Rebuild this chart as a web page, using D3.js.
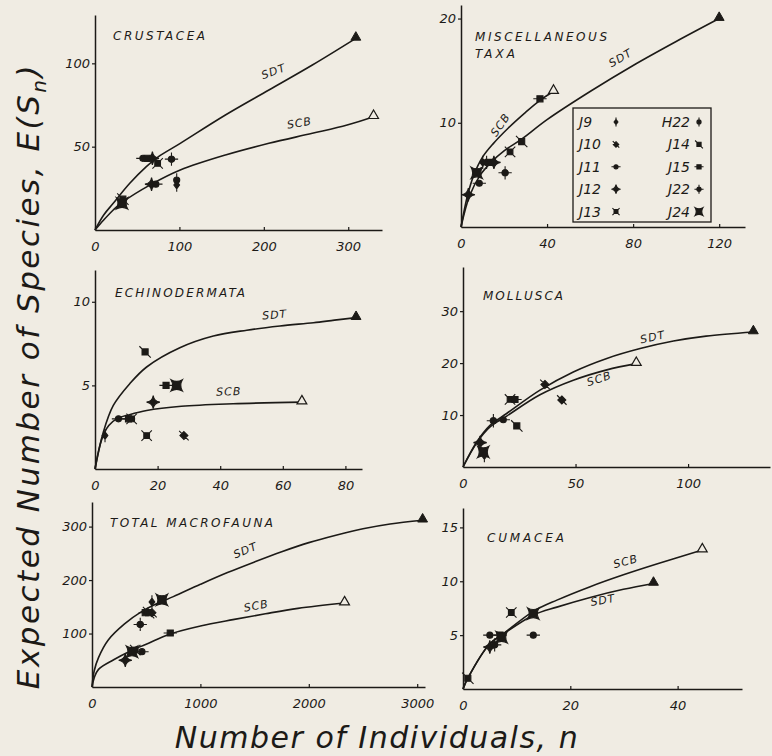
<!DOCTYPE html>
<html>
<head>
<meta charset="utf-8">
<script src="https://cdn.jsdelivr.net/npm/d3@7"></script>
<style>
  body { margin: 0; background: #f0ece3; }
  svg { display: block; }
  text { font-family: "DejaVu Sans", sans-serif; font-style: italic; fill: #1c1a17; }
</style>
</head>
<body>
<div id="chart"></div>
<script>
// stations shown in the legend
const legendLeft = ['J9', 'J10', 'J11', 'J12', 'J13'];
const legendRight = ['H22', 'J14', 'J15', 'J22', 'J24'];

// Crustacea
const crusN = [32, 33, 56.7, 61.8, 68, 74.2, 90.6, 67, 72.1, 96.8, 96.8];
const crusS = [16, 18.5, 43, 43, 43, 40, 42.5, 27.5, 27.5, 30, 27];
const crusSt = ['J24', 'J14', 'J11', 'J15', 'J12', 'J13', 'J22', 'J12', 'J11', 'H22', 'J9'];
const crusSdtN = [0, 10.3, 21.6, 41.2, 60.8, 75.2, 101, 154.5, 206, 257.5, 309];
const crusSdtS = [0, 9, 16, 28, 38, 44, 52, 69, 84, 99, 115];
const crusScbN = [0, 10.3, 21.6, 32, 67, 101, 154.5, 206, 257.5, 298.7, 330];
const crusScbS = [0, 6, 12, 16.5, 27.5, 36, 45, 52, 58, 63, 68];
const crusXTicks = [0, 100, 200, 300];
const crusYTicks = [50, 100];

// Miscellaneous taxa
const miscN = [3.4, 7.3, 8.5, 10.1, 11.9, 14.3, 15.3, 20.5, 22.8, 28.2, 36.7];
const miscS = [3.1, 5.2, 4.2, 6.2, 6.2, 6.2, 6.2, 5.2, 7.2, 8.2, 12.3];
const miscSt = ['J12', 'J24', 'J11', 'J9', 'J22', 'J15', 'J12', 'J22', 'J13', 'J14', 'J15'];
const miscSdtN = [0, 4, 9, 14, 20, 28, 40, 60, 80, 100, 120];
const miscSdtS = [0, 3, 5, 6.2, 7.3, 8.4, 10.3, 13, 15.5, 17.8, 20];
const miscScbN = [0, 3, 6, 10, 15, 22, 30, 37, 43];
const miscScbS = [0, 3, 5, 6.7, 8, 9.5, 11, 12.2, 13];
const miscXTicks = [0, 40, 80, 120];
const miscYTicks = [10, 20];

// Echinodermata
const echN = [3.2, 7.5, 10.7, 11.7, 16.0, 18.6, 22.7, 26.1, 16.5, 28.4];
const echS = [2, 3, 3, 3, 7, 4, 5, 5, 2, 2];
const echSt = ['J9', 'J11', 'J15', 'J13', 'J14', 'J12', 'J15', 'J24', 'J13', 'J10'];
const echSdtN = [0, 2.65, 5.85, 11.1, 16.5, 27.1, 37.8, 48.5, 59.1, 69.8, 76.5, 83.4];
const echSdtS = [0, 2.2, 3.8, 5.1, 6.1, 7.25, 7.95, 8.3, 8.55, 8.75, 8.9, 9.05];
const echScbN = [0, 2.2, 4.4, 6.9, 11.0, 16.5, 27.6, 44.1, 66.1];
const echScbS = [0, 1.8, 2.6, 3.0, 3.25, 3.5, 3.75, 3.9, 4.0];
const echXTicks = [0, 20, 40, 60, 80];
const echYTicks = [5, 10];

// Mollusca
const molN = [7.6, 9, 9.5, 13.5, 17.9, 20.9, 23.1, 23.9, 36.4, 43.9];
const molS = [4.7, 2.9, 2.2, 8.9, 9.1, 13, 13, 7.9, 15.9, 12.9];
const molSt = ['J12', 'J24', 'J9', 'J22', 'J11', 'J13', 'J15', 'J14', 'J10', 'J10'];
const molSdtN = [0, 6.1, 12, 19.4, 34.2, 49, 63.9, 78.7, 93.5, 108, 129];
const molSdtS = [0, 4.8, 8.0, 10.3, 14.8, 18.3, 20.9, 22.8, 24.25, 25.2, 26.0];
const molScbN = [0, 6.1, 12, 19.4, 34.2, 49, 63.9, 77];
const molScbS = [0, 4.65, 7.7, 9.8, 13.9, 16.7, 18.7, 19.9];
const molXTicks = [0, 50, 100];
const molYTicks = [10, 20, 30];

// Total macrofauna
const macN = [307, 369, 399, 461, 445, 491, 522, 553, 553, 645, 722];
const macS = [50, 66, 69, 66, 117, 139, 139, 139, 159, 163, 101];
const macSt = ['J12', 'J24', 'J13', 'J11', 'J22', 'J15', 'J14', 'J10', 'J9', 'J24', 'J15'];
const macSdtN = [0, 20, 60, 150, 300, 450, 600, 750, 1000, 1250, 1500, 1750, 2000, 2250, 2500, 2750, 3050];
const macSdtS = [0, 30, 55, 88, 118, 140, 156, 169, 192, 214, 234, 253, 270, 284, 296, 305, 312];
const macScbN = [0, 20, 60, 200, 350, 500, 720, 1000, 1300, 1600, 1900, 2330];
const macScbS = [0, 17, 33, 51, 67, 80, 99, 114, 126, 137, 147, 157];
const macXTicks = [0, 1000, 2000, 3000];
const macYTicks = [100, 200, 300];

// Cumacea
const cumN = [0.9, 5, 5, 5.9, 6.9, 7.2, 9, 13.1, 13.1];
const cumS = [1.0, 5.0, 3.9, 4.1, 5.0, 4.8, 7.1, 7.0, 5.0];
const cumSt = ['J14', 'J11', 'J12', 'J22', 'J15', 'J24', 'J13', 'J24', 'J11'];
const cumSdtN = [0, 0.9, 5, 7.2, 13.1, 17.5, 23.7, 29.9, 35.5];
const cumSdtS = [0, 1.0, 4.2, 5.0, 6.85, 7.6, 8.5, 9.25, 9.8];
const cumScbN = [0, 0.9, 5, 7.2, 13.1, 17.5, 23.7, 29.9, 36.1, 44.6];
const cumScbS = [0, 1.0, 4.2, 5.0, 7.2, 8.25, 9.5, 10.6, 11.6, 12.9];
const cumXTicks = [0, 20, 40];
const cumYTicks = [5, 10, 15];

const ink = '#1c1a17';
const paper = '#f0ece3';
const width = 772;
const height = 756;

// panel layout: pixel box [x of y axis, end of x axis, y of x axis, top of y axis]
const panels = [
  { title: ['CRUSTACEA'], titleAt: [113, 40], titleW: [92],
    n: crusN, s: crusS, st: crusSt, sdt: [crusSdtN, crusSdtS], scb: [crusScbN, crusScbS],
    xTicks: crusXTicks, yTicks: crusYTicks, xMax: 340, yMax: 129,
    box: [95, 382, 230, 15],
    sdtLabel: [213, 93, -20], scbLabel: [243, 62, -10] },
  { title: ['MISCELLANEOUS', 'TAXA'], titleAt: [475, 41], titleW: [132, 40],
    n: miscN, s: miscS, st: miscSt, sdt: [miscSdtN, miscSdtS], scb: [miscScbN, miscScbS],
    xTicks: miscXTicks, yTicks: miscYTicks, xMax: 132, yMax: 21.3,
    box: [461, 745, 227, 5],
    sdtLabel: [75, 15.9, -30], scbLabel: [19.7, 9.6, -55] },
  { title: ['ECHINODERMATA'], titleAt: [115, 297], titleW: [130],
    n: echN, s: echS, st: echSt, sdt: [echSdtN, echSdtS], scb: [echScbN, echScbS],
    xTicks: echXTicks, yTicks: echYTicks, xMax: 85.3, yMax: 11.9,
    box: [95, 362, 469, 270],
    sdtLabel: [57.5, 9.0, -5], scbLabel: [42.8, 4.4, -2] },
  { title: ['MOLLUSCA'], titleAt: [483, 300], titleW: [80],
    n: molN, s: molS, st: molSt, sdt: [molSdtN, molSdtS], scb: [molScbN, molScbS],
    xTicks: molXTicks, yTicks: molYTicks, xMax: 136.4, yMax: 38.5,
    box: [463, 770, 467, 267],
    sdtLabel: [84.6, 24.3, -12], scbLabel: [61, 16.3, -18] },
  { title: ['TOTAL MACROFAUNA'], titleAt: [110, 527], titleW: [163],
    n: macN, s: macS, st: macSt, sdt: [macSdtN, macSdtS], scb: [macScbN, macScbS],
    xTicks: macXTicks, yTicks: macYTicks, xMax: 3072, yMax: 346,
    box: [92, 425, 687, 502],
    sdtLabel: [1428, 249, -22], scbLabel: [1521, 145, -10] },
  { title: ['CUMACEA'], titleAt: [487, 542], titleW: [77],
    n: cumN, s: cumS, st: cumSt, sdt: [cumSdtN, cumSdtS], scb: [cumScbN, cumScbS],
    xTicks: cumXTicks, yTicks: cumYTicks, xMax: 52, yMax: 16.8,
    box: [463, 742, 689, 508],
    sdtLabel: [26.2, 7.9, -10], scbLabel: [30.5, 11.5, -15] }
];

// hand-drawn looking station symbols, centred on 0,0
const circle = r => `M${r},0A${r},${r} 0 1,1 ${-r},0A${r},${r} 0 1,1 ${r},0Z`;
const markers = {
  J9:  'M0,-4L3,0L0,4L-3,0Z M0,-7L0,7',
  H22: circle(3.2) + ' M0,-7L0,7',
  J11: circle(3.2) + ' M-7,0L7,0',
  J22: circle(3.4) + ' M-7,0L7,0 M0,-7L0,7',
  J15: 'M-3.2,-3.2h6.4v6.4h-6.4Z M-7,0L7,0',
  J10: 'M0,-4.2L4.2,0L0,4.2L-4.2,0Z M-5,-5L5,5',
  J14: 'M-3.2,-3.2h6.4v6.4h-6.4Z M-6,-6L6,6',
  J12: 'M0,-7Q0.8,-0.8 7,0Q0.8,0.8 0,7Q-0.8,0.8 -7,0Q-0.8,-0.8 0,-7Z',
  J13: 'M-3,-3h6v6h-6Z M-5.5,-5.5L5.5,5.5 M5.5,-5.5L-5.5,5.5',
  J24: 'M-6,-6Q0,-2.5 6,-6Q2.5,0 6,6Q0,2.5 -6,6Q-2.5,0 -6,-6Z'
};

const svg = d3.select('#chart').append('svg')
  .attr('width', width)
  .attr('height', height)
  .style('background', paper);

function drawMarker(g, type, x, y, k) {
  g.append('path')
    .attr('d', markers[type])
    .attr('transform', `translate(${x},${y}) scale(${k})`)
    .attr('fill', ink)
    .attr('stroke', ink)
    .attr('stroke-width', 1.1 / k);
}

panels.forEach(p => {
  const [x0, x1, y0, y1] = p.box;
  const x = d3.scaleLinear().domain([0, p.xMax]).range([x0, x1]);
  const y = d3.scaleLinear().domain([0, p.yMax]).range([y0, y1]);
  const g = svg.append('g');

  const xAxis = g.append('g')
    .attr('transform', `translate(0,${y0})`)
    .call(d3.axisBottom(x).tickValues(p.xTicks).tickFormat(d3.format('d')).tickSize(3).tickSizeOuter(0));
  const yAxis = g.append('g')
    .attr('transform', `translate(${x0},0)`)
    .call(d3.axisLeft(y).tickValues(p.yTicks).tickFormat(d3.format('d')).tickSize(3).tickSizeOuter(0));

  [xAxis, yAxis].forEach(a => {
    a.select('.domain').attr('stroke', ink).attr('stroke-width', 1.5);
    a.selectAll('.tick line').attr('stroke', ink).attr('stroke-width', 1.2);
    a.selectAll('.tick text')
      .attr('font-family', '"DejaVu Sans", sans-serif')
      .attr('font-size', 13)
      .attr('fill', ink);
  });
  xAxis.selectAll('.tick text').attr('dy', '1.15em');
  xAxis.selectAll('.tick line').attr('y2', -3);
  yAxis.selectAll('.tick text').attr('x', -5);

  const line = d3.line()
    .x(d => x(d[0]))
    .y(d => y(d[1]))
    .curve(d3.curveCatmullRom.alpha(0.5));

  [p.sdt, p.scb].forEach(c => {
    g.append('path')
      .datum(d3.zip(c[0], c[1]))
      .attr('d', line)
      .attr('fill', 'none')
      .attr('stroke', ink)
      .attr('stroke-width', 1.6);
  });

  // end triangles: filled for SDT, open for SCB
  const tri = d3.symbol(d3.symbolTriangle).size(42);
  const sdtEnd = p.sdt[0].length - 1;
  const scbEnd = p.scb[0].length - 1;
  g.append('path')
    .attr('d', tri)
    .attr('transform', `translate(${x(p.sdt[0][sdtEnd])},${y(p.sdt[1][sdtEnd]) - 1})`)
    .attr('fill', ink).attr('stroke', ink).attr('stroke-width', 1);
  g.append('path')
    .attr('d', tri)
    .attr('transform', `translate(${x(p.scb[0][scbEnd])},${y(p.scb[1][scbEnd]) - 1})`)
    .attr('fill', paper).attr('stroke', ink).attr('stroke-width', 1.2);

  // curve labels
  [['SDT', p.sdtLabel], ['SCB', p.scbLabel]].forEach(([t, l]) => {
    g.append('text')
      .attr('transform', `translate(${x(l[0])},${y(l[1])}) rotate(${l[2]})`)
      .attr('text-anchor', 'middle')
      .attr('font-size', 11)
      .attr('font-style', 'normal')
      .attr('letter-spacing', 1)
      .text(t);
  });

  // panel title
  p.title.forEach((t, i) => {
    g.append('text')
      .attr('x', p.titleAt[0])
      .attr('y', p.titleAt[1] + i * 17)
      .attr('font-size', 12)
      .attr('textLength', p.titleW[i])
      .attr('lengthAdjust', 'spacing')
      .text(t);
  });

  // station points
  p.n.forEach((n, i) => drawMarker(g, p.st[i], x(n), y(p.s[i]), 0.95));
});

// legend inside the miscellaneous taxa panel
const leg = svg.append('g');
leg.append('rect')
  .attr('x', 573).attr('y', 108)
  .attr('width', 138).attr('height', 114)
  .attr('fill', 'none')
  .attr('stroke', ink)
  .attr('stroke-width', 1.3);
legendLeft.forEach((s, i) => {
  const yy = 122 + i * 22.4;
  leg.append('text').attr('x', 579).attr('y', yy + 5).attr('font-size', 14).text(s);
  drawMarker(leg, s, 616, yy, 0.65);
});
legendRight.forEach((s, i) => {
  const yy = 122 + i * 22.4;
  leg.append('text').attr('x', 690).attr('y', yy + 5).attr('text-anchor', 'end').attr('font-size', 14).text(s);
  drawMarker(leg, s, 699, yy, 0.65);
});

// axis titles
const yTitle = svg.append('text')
  .attr('transform', 'translate(39,376) rotate(-90)')
  .attr('text-anchor', 'middle')
  .attr('font-size', 31)
  .attr('letter-spacing', 2.5);
yTitle.append('tspan').text('Expected Number of Species, E(S');
yTitle.append('tspan').attr('font-size', 20).attr('dy', 7).text('n');
yTitle.append('tspan').attr('dy', -7).text(')');

svg.append('text')
  .attr('x', 377)
  .attr('y', 748)
  .attr('text-anchor', 'middle')
  .attr('font-size', 30)
  .attr('letter-spacing', 1.5)
  .text('Number of Individuals, n');
</script>
</body>
</html>
